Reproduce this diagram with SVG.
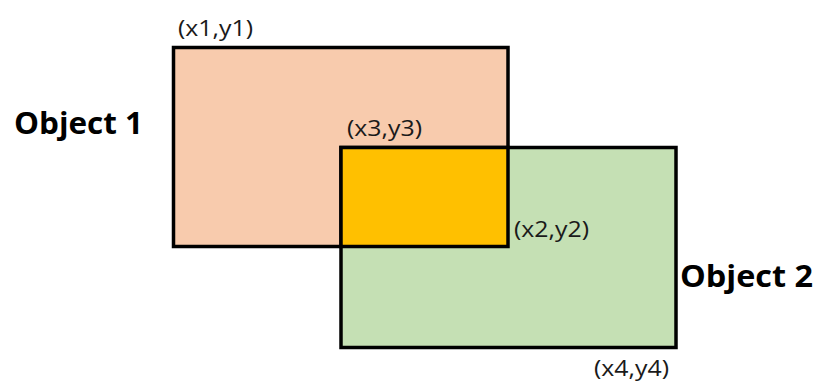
<svg xmlns="http://www.w3.org/2000/svg" width="820" height="384" viewBox="0 0 820 384">
  <style>
    .box { stroke: #000000; stroke-width: 3.5; }
    .coord { font-family: "Open Sans", "Liberation Sans", Arial, sans-serif; font-size: 21px; fill: #1a1a1a; }
    .title { font-family: "Open Sans", "Liberation Sans", Arial, sans-serif; font-size: 30px; font-weight: bold; fill: #000000; }
  </style>
  <rect width="820" height="384" fill="#ffffff"/>
  <g id="object1">
    <rect class="box" x="173.5" y="47.5" width="334.5" height="199" fill="#F8CBAD"/>
    <text class="title" x="14" y="134" textLength="129" lengthAdjust="spacingAndGlyphs">Object 1</text>
    <text class="coord" x="178" y="36" textLength="75" lengthAdjust="spacingAndGlyphs">(x1,y1)</text>
  </g>
  <g id="object2">
    <rect class="box" x="341" y="147.5" width="335" height="200" fill="#C5E0B4"/>
    <text class="title" x="680" y="287" textLength="133" lengthAdjust="spacingAndGlyphs">Object 2</text>
    <text class="coord" x="594" y="376" textLength="75" lengthAdjust="spacingAndGlyphs">(x4,y4)</text>
  </g>
  <g id="intersection">
    <rect class="box" x="341" y="147.5" width="167" height="99" fill="#FFC000"/>
    <text class="coord" x="347" y="136" textLength="75" lengthAdjust="spacingAndGlyphs">(x3,y3)</text>
    <text class="coord" x="514" y="237" textLength="75" lengthAdjust="spacingAndGlyphs">(x2,y2)</text>
  </g>
  <g id="connectors"></g>
</svg>
